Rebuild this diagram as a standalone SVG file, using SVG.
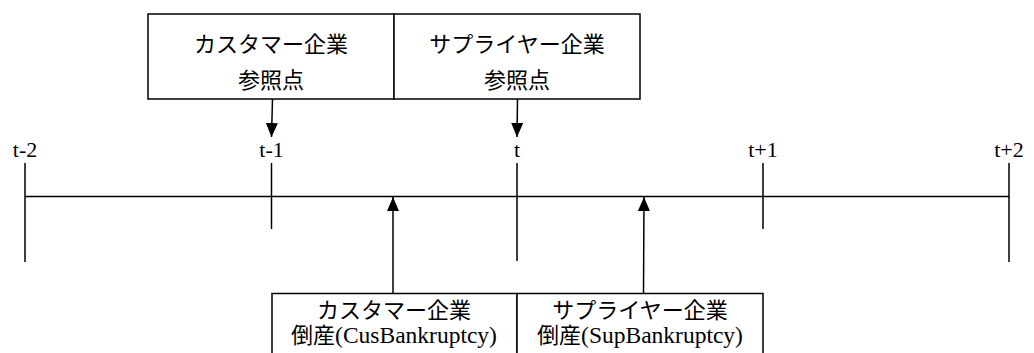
<svg xmlns="http://www.w3.org/2000/svg" width="1034" height="353" viewBox="0 0 1034 353">
<style>
.box{fill:#fff;stroke:#000;stroke-width:1.5}
.ln{stroke:#000;stroke-width:1.5;fill:none}
.t{font-family:"Liberation Serif","Noto Sans CJK JP",serif;font-size:22px;fill:#000;text-anchor:middle}
.lat{font-size:23.5px}
</style>
<defs>
<marker id="ahl" viewBox="0 0 14 12" refX="14" refY="6" markerWidth="14" markerHeight="12" markerUnits="userSpaceOnUse" orient="auto">
<path d="M0,0 L14,6 L0,12 z" fill="#000"/>
</marker>
</defs>
<g id="timeline">
<line class="ln" x1="25" y1="196.5" x2="1009" y2="196.5"/>
<line class="ln" x1="25" y1="163" x2="25" y2="262"/>
<line class="ln" x1="271.5" y1="163" x2="271.5" y2="229"/>
<line class="ln" x1="517" y1="163" x2="517" y2="261"/>
<line class="ln" x1="763" y1="163" x2="763" y2="229"/>
<line class="ln" x1="1009" y1="163" x2="1009" y2="262"/>
<text class="t" x="25" y="157">t-2</text>
<text class="t" x="271.5" y="157">t-1</text>
<text class="t" x="517" y="157">t</text>
<text class="t" x="763" y="157">t+1</text>
<text class="t" x="1009" y="157">t+2</text>
</g>
<g id="cus-ref">
<rect class="box" x="148" y="14" width="246" height="85"/>
<text class="t" x="271" y="52">カスタマー企業</text>
<text class="t" x="271" y="88">参照点</text>
</g>
<g id="sup-ref">
<rect class="box" x="394" y="14" width="246" height="85"/>
<text class="t" x="517" y="52">サプライヤー企業</text>
<text class="t" x="517" y="88">参照点</text>
</g>
<g id="cus-bank">
<rect class="box" x="272" y="293.5" width="245" height="70"/>
<text class="t" x="394" y="318">カスタマー企業</text>
<text class="t" x="394" y="343">倒産<tspan class="lat">(CusBankruptcy)</tspan></text>
</g>
<g id="sup-bank">
<rect class="box" x="517" y="293.5" width="246" height="70"/>
<text class="t" x="640" y="318">サプライヤー企業</text>
<text class="t" x="640" y="343">倒産<tspan class="lat">(SupBankruptcy)</tspan></text>
</g>
<g id="connectors">
<line class="ln" x1="272.5" y1="99" x2="271.5" y2="137" marker-end="url(#ahl)"/>
<line class="ln" x1="517.5" y1="99" x2="517" y2="137" marker-end="url(#ahl)"/>
<line class="ln" x1="393" y1="293" x2="393" y2="197" marker-end="url(#ahl)"/>
<line class="ln" x1="643.5" y1="293" x2="644" y2="197" marker-end="url(#ahl)"/>
</g>
</svg>
